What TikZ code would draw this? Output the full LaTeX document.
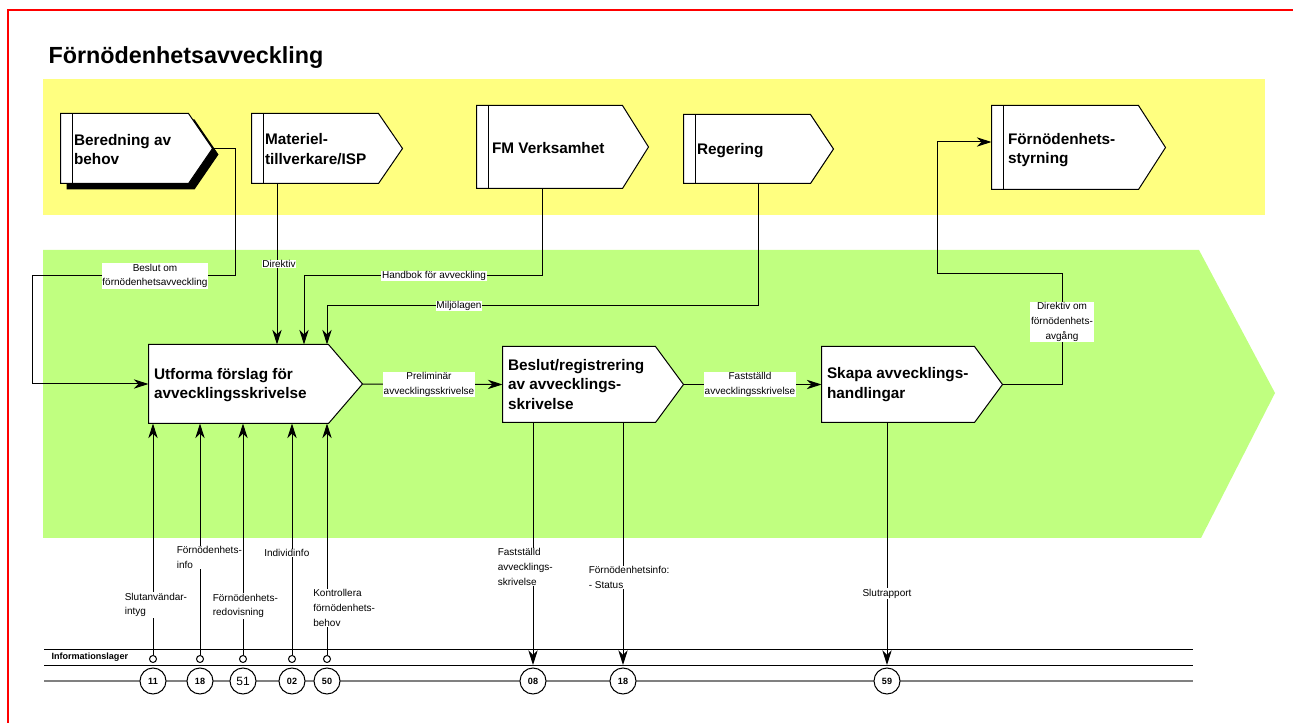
\documentclass[tikz,border=0pt]{standalone}
\usepackage{fontspec}
\setmainfont{Liberation Sans}
\usetikzlibrary{arrows.meta,calc,fit}

\definecolor{laneyellow}{RGB}{255,255,128}
\definecolor{lanegreen}{RGB}{192,255,128}

% chevron outline round an empty fit node: name, pointer depth
\newcommand{\chevbox}[2]{%
  \filldraw[fill=white] (#1.north west) -- ($(#1.north east)+(-#2,0)$)
    -- (#1.east) -- ($(#1.south east)+(-#2,0)$) -- (#1.south west) -- cycle;}
% side strip of the outer boxes
\newcommand{\sidestrip}[1]{%
  \draw ($(#1.north west)+(12,0)$) -- ($(#1.south west)+(12,0)$);}

\begin{document}
\begin{tikzpicture}[x=0.75pt,y=-0.75pt,line width=0.75pt,
  >={Stealth[length=11pt,width=7pt,inset=3.5pt]},
  boxframe/.style={fit={#1},inner sep=0pt,draw=none},
  boxtext/.style={anchor=west,align=left,inner sep=0pt,font=\bfseries\fontsize{11.5}{14.5}\selectfont},
  lbl/.style={fill=white,inner sep=0.6pt,align=center,font=\fontsize{7.5}{11}\selectfont},
  lblleft/.style={lbl,align=left,anchor=west},
  port/.style={draw,circle,fill=white,inner sep=0pt,minimum size=5.25pt},
  store/.style={draw,circle,fill=white,inner sep=0pt,minimum size=19.5pt,font=\bfseries\fontsize{6.8}{8}\selectfont}]
  \useasboundingbox (0,0) rectangle (1293,723);
  % frame and lanes
  \draw[red,line width=1.5pt] (8,723) -- (8,10) -- (1293,10);
  \fill[laneyellow] (43,79) rectangle (1265,215);
  \fill[lanegreen] (43,250) -- (1199,250) -- (1275,393) -- (1201,538) -- (43,538) -- cycle;
  \node[anchor=base west,inner sep=0pt,font=\bfseries\fontsize{17.5}{20}\selectfont] (title) at (48,64) {Förnödenhetsavveckling};

  % outer boxes
  \node[boxframe={(61,114) (212,183)}] (bered) {};
  \fill ($(bered.north west)+(6,6)$) -- ($(bered.north east)+(-18,6)$) -- ($(bered.east)+(6,6)$)
    -- ($(bered.south east)+(-18,6)$) -- ($(bered.south west)+(6,6)$) -- cycle;
  \chevbox{bered}{24} \sidestrip{bered}
  \node[boxtext] (beredt) at (73.5,149.5) {Beredning av\\behov};
  \node[boxframe={(252,114) (402,183)}] (mat) {};
  \chevbox{mat}{24} \sidestrip{mat}
  \node[boxtext] (matt) at (264.5,149) {Materiel-\\tillverkare/ISP};
  \node[boxframe={(477,106) (648,188)}] (fm) {};
  \chevbox{fm}{26} \sidestrip{fm}
  \node[boxtext] (fmt) at (491.5,148) {FM Verksamhet};
  \node[boxframe={(684,115) (833,183)}] (reg) {};
  \chevbox{reg}{23} \sidestrip{reg}
  \node[boxtext] (regt) at (696.5,150.5) {Regering};
  \node[boxframe={(992,106) (1165,189)}] (styr) {};
  \chevbox{styr}{27} \sidestrip{styr}
  \node[boxtext] (styrt) at (1007.5,150) {Förnödenhets-\\styrning};

  % process steps
  \node[boxframe={(149,345) (362,423)}] (p1) {};
  \chevbox{p1}{34}
  \node[boxtext] (p1t) at (153.5,385) {Utforma förslag för\\avvecklingsskrivelse};
  \node[boxframe={(503,347) (683,422)}] (p2) {};
  \chevbox{p2}{28}
  \node[boxtext] (p2t) at (507.5,384.5) {Beslut/registrering\\av avvecklings-\\skrivelse};
  \node[boxframe={(822,347) (1002,422)}] (p3) {};
  \chevbox{p3}{28}
  \node[boxtext] (p3t) at (826.5,384.5) {Skapa avvecklings-\\handlingar};

  % inputs from the upper lane
  \draw[->] (bered.east) -| (235,276) -| (32,384) -- (p1.west);
  \node[lbl] (beslut) at (155,276) {Beslut om\\förnödenhetsavveckling};
  \draw[->] (277,0 |- mat.south) -- (277,0 |- p1.north);
  \node[lbl] (direktiv) at (279,264) {Direktiv};
  \draw[->] (542,0 |- fm.south) |- (304,276) -- (304,0 |- p1.north);
  \node[lbl] (handbok) at (434,276) {Handbok för avveckling};
  \draw[->] (758,0 |- reg.south) |- (327,306) -- (327,0 |- p1.north);
  \node[lbl] (miljo) at (459,306) {Miljölagen};

  % main flow
  \draw[->] (p1.east) -- (p2.west);
  \node[lbl] (prelim) at (429,384.5) {Preliminär\\avvecklingsskrivelse};
  \draw[->] (p2.east) -- (p3.west);
  \node[lbl] (faststalld) at (750,384.5) {Fastställd\\avvecklingsskrivelse};
  \draw[->] (p3.east) -| (1062,274) -| (937,142) -- (styr.west |- 937,142);
  \node[lbl] (avgang) at (1062,322) {Direktiv om\\förnödenhets-\\avgång};

  % information store
  \draw (44,649) -- (1193,649);
  \draw (44,665) -- (1193,665);
  \draw[gray,line width=1.3pt] (44,681) -- (1193,681);
  \node[anchor=west,inner sep=0pt,font=\bfseries\fontsize{6.8}{8}\selectfont] (lager) at (51,657.5) {Informationslager};
  \node[store] (d11) at (153,681) {11};
  \node[store] (d18) at (200,681) {18};
  \node[store,font=\fontsize{9}{10}\selectfont] (d51) at (243,681) {51};
  \node[store] (d02) at (292,681) {02};
  \node[store] (d50) at (327,681) {50};
  \node[store] (d08) at (533,681) {08};
  \node[store] (d18b) at (623,681) {18};
  \node[store] (d59) at (887,681) {59};
  \node[port] (s11) at (153,659) {};
  \node[port] (s18) at (200,659) {};
  \node[port] (s51) at (243,659) {};
  \node[port] (s02) at (292,659) {};
  \node[port] (s50) at (327,659) {};

  % inputs from the store
  \draw[->] (s11) -- (s11 |- p1.south);
  \draw[->] (s18) -- (s18 |- p1.south);
  \draw[->] (s51) -- (s51 |- p1.south);
  \draw[->] (s02) -- (s02 |- p1.south);
  \draw[->] (s50) -- (s50 |- p1.south);
  \node[lblleft] (l11) at (123.5,605) {Slutanvändar-\\intyg};
  \node[lblleft] (l18) at (175.5,557.5) {Förnödenhets-\\info};
  \node[lblleft] (l51) at (211.5,606) {Förnödenhets-\\redovisning};
  \node[lblleft] (l02) at (263,553) {Individinfo};
  \node[lblleft] (l50) at (312,608) {Kontrollera\\förnödenhets-\\behov};

  % outputs to the store
  \draw[->] (d08 |- p2.south) -- (d08 |- 0,665);
  \draw[->] (d18b |- p2.south) -- (d18b |- 0,665);
  \draw[->] (d59 |- p3.south) -- (d59 |- 0,665);
  \node[lblleft] (l08) at (496.5,567) {Fastställd\\avvecklings-\\skrivelse};
  \node[lblleft] (l18b) at (587.5,577.5) {Förnödenhetsinfo:\\- Status};
  \node[lbl] (l59) at (887,593.5) {Slutrapport};
\end{tikzpicture}
\end{document}
